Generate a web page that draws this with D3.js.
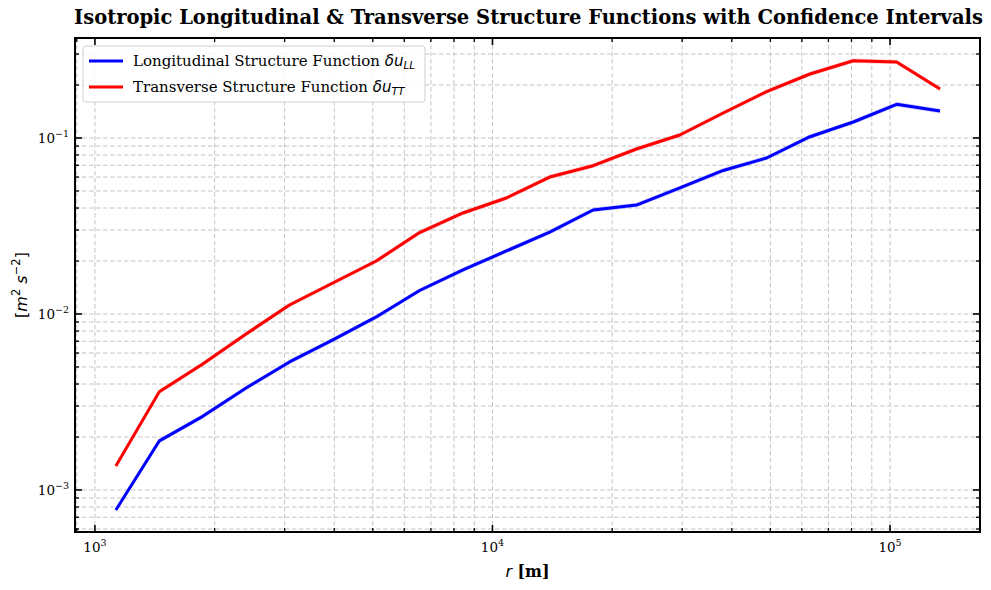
<!DOCTYPE html>
<html><head><meta charset="utf-8">
<script src="https://cdn.jsdelivr.net/npm/d3@7"></script>
<style>body{margin:0;background:#fff}svg{display:block}</style>
</head><body>
<svg id="c" width="991" height="590"></svg>
<script>
const rValues = [1129, 1452, 1867, 2400, 3086, 3967, 5100, 6556, 8428, 10835, 13931, 17910, 23020, 29600, 38050, 48920, 62890, 80850, 103900, 133600];
const longitudinal = [0.00077, 0.0019, 0.00262, 0.0038, 0.00534, 0.00712, 0.00962, 0.0136, 0.0178, 0.0228, 0.0292, 0.039, 0.0416, 0.052, 0.0654, 0.077, 0.1017, 0.1233, 0.1554, 0.1423];
const transverse = [0.00137, 0.00362, 0.0052, 0.0077, 0.01125, 0.015, 0.02, 0.029, 0.0375, 0.0456, 0.06, 0.0696, 0.0866, 0.104, 0.1387, 0.1833, 0.231, 0.2748, 0.2702, 0.1898];
const xDomain = [891, 168400];
const yDomain = [0.000577, 0.37];
const seriesNames = ["Longitudinal Structure Function ", "Transverse Structure Function "];
const seriesSubs = ["LL", "TT"];
const seriesColors = ["#0000ff", "#ff0000"];
const ciFrac = 0.03;

const svg = d3.select("#c");
const L = 75, R = 980, T = 38, B = 532;
const x = d3.scaleLog().domain(xDomain).range([L, R]);
const y = d3.scaleLog().domain(yDomain).range([B, T]);

const xTicksAll = [], yTicksAll = [];
for (let e = 2; e <= 5; e++) for (let m = 1; m <= 9; m++) { const v = m * Math.pow(10, e); if (v >= xDomain[0] && v <= xDomain[1]) xTicksAll.push(v); }
for (let e = -4; e <= 0; e++) for (let m = 1; m <= 9; m++) { const v = m * Math.pow(10, e); if (v >= yDomain[0] && v <= yDomain[1]) yTicksAll.push(v); }
const isMajor = v => Math.abs(Math.log10(v) - Math.round(Math.log10(v))) < 1e-9;

const grid = svg.append("g").attr("stroke", "#c4c4c4").attr("stroke-width", 1).attr("stroke-dasharray", "4.5,2.5");
xTicksAll.forEach(v => grid.append("line").attr("x1", x(v)).attr("x2", x(v)).attr("y1", T).attr("y2", B));
yTicksAll.forEach(v => grid.append("line").attr("y1", y(v)).attr("y2", y(v)).attr("x1", L).attr("x2", R));

const series = [longitudinal, transverse];
series.forEach((vals, i) => {
  const area = d3.area().x((d, j) => x(rValues[j])).y0(d => y(d * (1 - ciFrac))).y1(d => y(d * (1 + ciFrac)));
  svg.append("path").datum(vals).attr("d", area).attr("fill", seriesColors[i]).attr("opacity", 0.2);
});
series.forEach((vals, i) => {
  const line = d3.line().x((d, j) => x(rValues[j])).y(d => y(d));
  svg.append("path").datum(vals).attr("d", line).attr("fill", "none").attr("stroke", seriesColors[i]).attr("stroke-width", 3).attr("stroke-linejoin", "round");
});

const tk = svg.append("g").attr("stroke", "#000");
xTicksAll.forEach(v => {
  const len = isMajor(v) ? 7 : 4, w = isMajor(v) ? 1.6 : 1.3;
  tk.append("line").attr("x1", x(v)).attr("x2", x(v)).attr("y1", B).attr("y2", B - len).attr("stroke-width", w);
  tk.append("line").attr("x1", x(v)).attr("x2", x(v)).attr("y1", T).attr("y2", T + len).attr("stroke-width", w);
});
yTicksAll.forEach(v => {
  const len = isMajor(v) ? 7 : 4, w = isMajor(v) ? 1.6 : 1.3;
  tk.append("line").attr("y1", y(v)).attr("y2", y(v)).attr("x1", L).attr("x2", L + len).attr("stroke-width", w);
  tk.append("line").attr("y1", y(v)).attr("y2", y(v)).attr("x1", R).attr("x2", R - len).attr("stroke-width", w);
});

svg.append("rect").attr("x", L).attr("y", T).attr("width", R - L).attr("height", B - T).attr("fill", "none").attr("stroke", "#000").attr("stroke-width", 2);

const serif = "'DejaVu Serif', serif";
xTicksAll.filter(isMajor).forEach(v => {
  const t = svg.append("text").attr("x", x(v)).attr("y", B + 20).attr("text-anchor", "middle").attr("font-family", serif).attr("font-size", 13.5);
  t.append("tspan").text("10");
  t.append("tspan").attr("dy", -6).attr("font-size", 9.5).text(Math.round(Math.log10(v)));
});
yTicksAll.filter(isMajor).forEach(v => {
  const t = svg.append("text").attr("x", L - 6).attr("y", y(v) + 5).attr("text-anchor", "end").attr("font-family", serif).attr("font-size", 13.5);
  t.append("tspan").text("10");
  t.append("tspan").attr("dy", -6).attr("font-size", 9.5).text("\u2212" + Math.abs(Math.round(Math.log10(v))));
});

svg.append("text").attr("x", (L + R) / 2 + 1).attr("y", 24).attr("text-anchor", "middle").attr("font-family", serif).attr("font-weight", "bold").attr("font-size", 19.5)
  .text("Isotropic Longitudinal & Transverse Structure Functions with Confidence Intervals");

const xl = svg.append("text").attr("x", (L + R) / 2).attr("y", 577).attr("text-anchor", "middle").attr("font-size", 16);
xl.append("tspan").attr("font-family", "'DejaVu Sans', sans-serif").attr("font-style", "italic").text("r");
xl.append("tspan").attr("font-family", serif).attr("font-weight", "bold").text(" [m]");

const yl = svg.append("text").attr("transform", `translate(27,${(T + B) / 2}) rotate(-90)`).attr("text-anchor", "middle").attr("font-family", "'DejaVu Sans', sans-serif").attr("font-size", 16);
yl.append("tspan").text("[");
yl.append("tspan").attr("font-style", "italic").text("m");
yl.append("tspan").attr("dy", -7).attr("font-size", 11.5).text("2");
yl.append("tspan").attr("dy", 7).text(" ");
yl.append("tspan").attr("font-style", "italic").text("s");
yl.append("tspan").attr("dy", -7).attr("font-size", 11.5).text("\u22122");
yl.append("tspan").attr("dy", 7).text("]");

const lg = svg.append("g");
lg.append("rect").attr("x", 83).attr("y", 46).attr("width", 342).attr("height", 56).attr("rx", 3).attr("fill", "#fff").attr("fill-opacity", 0.85).attr("stroke", "#d0d0d0").attr("stroke-width", 1);
seriesNames.forEach((n, i) => {
  const yy = 61 + i * 26;
  lg.append("line").attr("x1", 89).attr("x2", 123).attr("y1", yy).attr("y2", yy).attr("stroke", seriesColors[i]).attr("stroke-width", 3);
  const t = lg.append("text").attr("x", 133).attr("y", yy + 5).attr("font-family", serif).attr("font-size", 15);
  t.append("tspan").text(n);
  t.append("tspan").attr("font-family", "'DejaVu Sans', sans-serif").attr("font-style", "italic").text("\u03b4u");
  t.append("tspan").attr("font-family", "'DejaVu Sans', sans-serif").attr("font-style", "italic").attr("font-size", 10.5).attr("dy", 3).text(seriesSubs[i]);
});
</script>
</body></html>
